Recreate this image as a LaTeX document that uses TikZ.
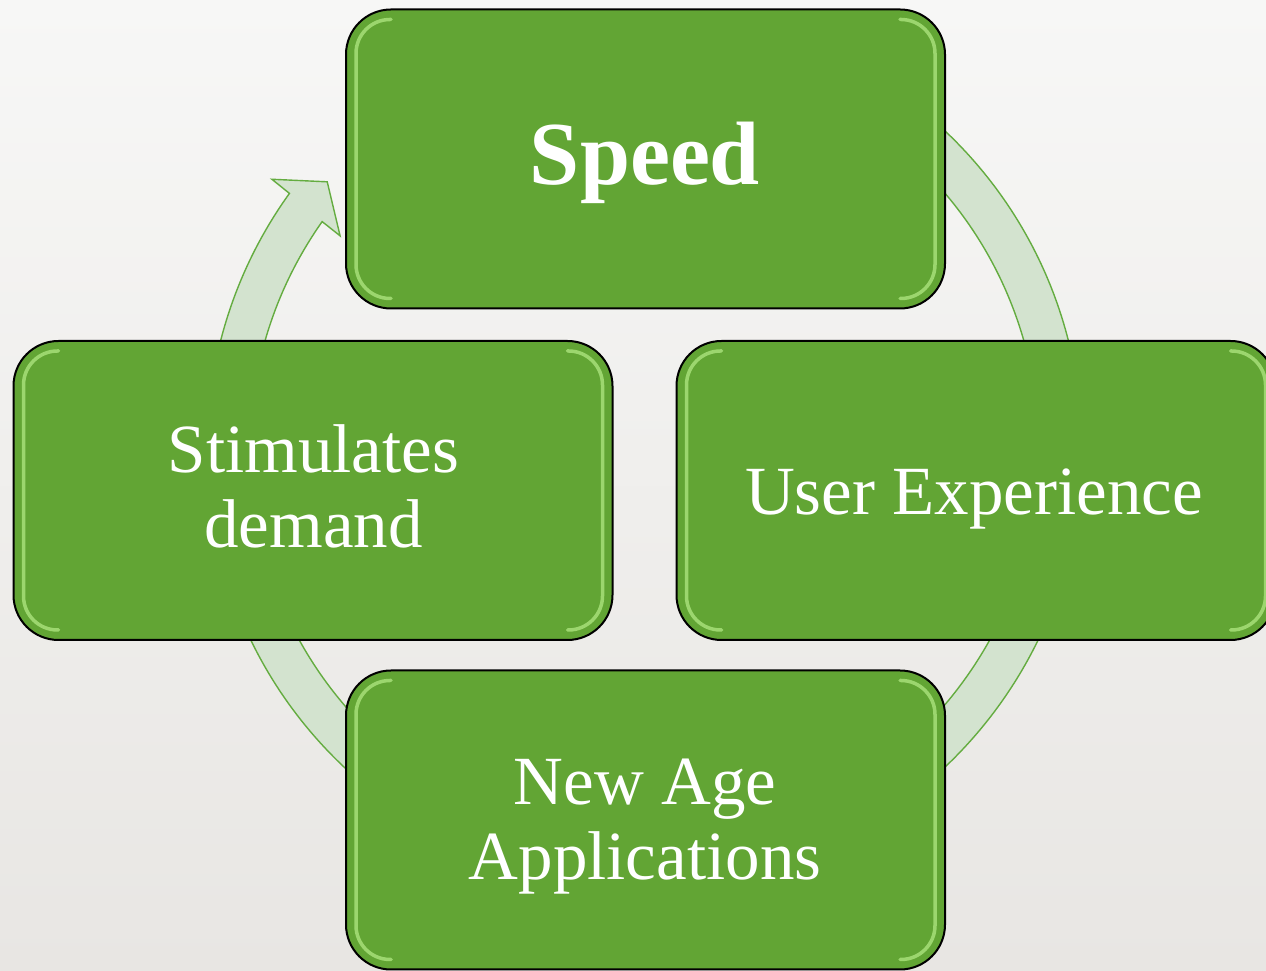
\documentclass[tikz,border=0pt]{standalone}
\usepackage{fontspec}
\setmainfont{Liberation Serif}
\definecolor{boxgreen}{HTML}{62A534}
\definecolor{hlgreen}{HTML}{B6EC88}
\definecolor{arrowfill}{HTML}{D3E3CF}
\definecolor{arrowline}{HTML}{64AC40}
\definecolor{bgtop}{HTML}{F7F7F6}
\definecolor{bgbot}{HTML}{E8E6E3}
\tikzset{
  box/.style={rectangle, rounded corners=45pt, minimum width=599pt, minimum height=299pt,
    fill=boxgreen, draw=black, line width=2pt, inner sep=0pt},
  glare/.style={draw=hlgreen, line width=3.5pt, opacity=0.7, rounded corners=34pt, line cap=round},
  cyclearrow/.style={fill=arrowfill, draw=arrowline, line width=1.4pt, line join=miter},
  lbl/.style={text=white, inner sep=0pt, align=center,
    font=\fontsize{69}{75}\selectfont},
}
\begin{document}
\begin{tikzpicture}[x=1pt,y=1pt]
\useasboundingbox (0,0) rectangle (1266,971);
\clip (0,0) rectangle (1266,971);
\fill[top color=bgtop, bottom color=bgbot] (0,0) rectangle (1266,971);

% cycle arrow
\begin{scope}[shift={(644.5,522)}]
\draw[cyclearrow] (100:437.5) arc[start angle=100, end angle=-215.75, radius=437.5]
  -- (-215.9:460) -- (-220.1:414.8) -- (-215:371.6) -- (-215.2:394.5)
  arc[start angle=-215.2, end angle=100, radius=394.5] -- cycle;
\end{scope}

% boxes
\node[box] (speed) at (645.5,812) {};
\node[box] (stim) at (313,480.5) {};
\node[box] (ue) at (976,480.5) {};
\node[box] (nage) at (645.5,151) {};
\foreach \b in {speed,stim,ue,nage}{
  \draw[glare] ([xshift=46pt,yshift=-11pt]\b.north west) -- ([xshift=11pt,yshift=-11pt]\b.north west)
    -- ([xshift=11pt,yshift=11pt]\b.south west) -- ([xshift=46pt,yshift=11pt]\b.south west);
  \draw[glare] ([xshift=-46pt,yshift=-11pt]\b.north east) -- ([xshift=-11pt,yshift=-11pt]\b.north east)
    -- ([xshift=-11pt,yshift=11pt]\b.south east) -- ([xshift=-46pt,yshift=11pt]\b.south east);
}

% labels
\node[lbl, anchor=base, font=\bfseries\fontsize{90}{90}\selectfont] (tspeed) at (645,786) {Speed};
\node[lbl, anchor=base] (tstim) at (313.5,423) {Stimulates\\demand};
\node[lbl, anchor=base] (tue) at (974,456) {User Experience};
\node[lbl, anchor=base] (tnage) at (645,91) {New Age\\Applications};
\end{tikzpicture}
\end{document}
